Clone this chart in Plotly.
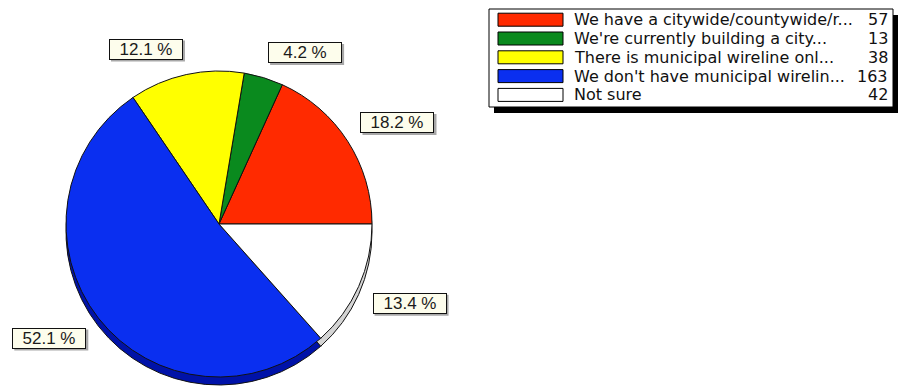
import math
import plotly.graph_objects as go

# ---- data ----
categories = [
    "We have a citywide/countywide/r...",
    "We're currently building a city...",
    "There is municipal wireline onl...",
    "We don't have municipal wirelin...",
    "Not sure",
]
counts = [57, 13, 38, 163, 42]
colors = ["#ff2a00", "#0a8a1e", "#ffff00", "#0a2ff0", "#ffffff"]
rim_colors = ["#a81800", "#005a12", "#a8a800", "#0012a8", "#d4d4d4"]

W, H = 905, 387
CX, CY, R = 219, 224, 153   # pie centre and radius, pixels
DEPTH = 8                   # 3-D rim thickness, pixels


def px(x):
    return x / W


def py(y):
    return 1 - y / H


def domain(dy=0):
    return dict(x=[px(CX - R), px(CX + R)], y=[py(CY + R + dy), py(CY - R + dy)])


total = sum(counts)
# first slice starts at 3 o'clock and slices run counter-clockwise
rot = 90 - 360 * counts[0] / total

fig = go.Figure()

# rim / depth pie (behind)
fig.add_trace(go.Pie(
    values=counts, labels=categories, sort=False, direction="counterclockwise",
    rotation=rot, marker=dict(colors=rim_colors, line=dict(color="#111111", width=1)),
    textinfo="none", hoverinfo="skip", showlegend=False, domain=domain(DEPTH),
))
# main pie
fig.add_trace(go.Pie(
    values=counts, labels=categories, sort=False, direction="counterclockwise",
    rotation=rot, marker=dict(colors=colors, line=dict(color="#111111", width=1)),
    textinfo="none", hoverinfo="label+value+percent", showlegend=False, domain=domain(0),
))

shapes = []
annotations = []

# percentage boxes, anchored at 1.1 R along each slice's mid angle
BOX_W, BOX_H = 74, 21
cum = 0
for v in counts:
    mid = (cum + v / 2) / total * 2 * math.pi
    cum += v
    ax = CX + 1.1 * R * math.cos(mid)
    ay = CY - 1.1 * R * math.sin(mid)
    right = math.cos(mid) >= 0
    up = math.sin(mid) >= 0
    x0 = ax if right else ax - BOX_W
    y0 = ay - BOX_H if up else ay
    shapes.append(dict(type="rect", xref="paper", yref="paper",
                       x0=px(x0 + 2), x1=px(x0 + BOX_W + 2),
                       y0=py(y0 + BOX_H + 2), y1=py(y0 + 2),
                       fillcolor="#a8a8a8", line=dict(width=0), layer="above"))
    annotations.append(dict(
        x=px(ax), y=py(ay), xref="paper", yref="paper",
        xanchor="left" if right else "right", yanchor="bottom" if up else "top",
        text=f"{v / total * 100:.1f} %", showarrow=False,
        font=dict(family="Liberation Sans, Arial", size=17, color="#1a1a1a"),
        bgcolor="#fdfdec", bordercolor="#111111", borderwidth=1, borderpad=1,
        width=BOX_W - 4, height=BOX_H - 4, align="center", valign="middle",
    ))

# custom legend
LX0, LY0, LX1, LY1 = 489, 9, 893, 107
shapes.append(dict(type="rect", xref="paper", yref="paper",
                   x0=px(LX0 + 5), x1=px(LX1 + 5), y0=py(LY1 + 6), y1=py(LY0 + 6),
                   fillcolor="#000000", line=dict(width=0), layer="above"))
shapes.append(dict(type="rect", xref="paper", yref="paper",
                   x0=px(LX0), x1=px(LX1), y0=py(LY1), y1=py(LY0),
                   fillcolor="#ffffff", line=dict(color="#000000", width=1), layer="above"))
ROW0, ROW_STEP = 19.7, 18.8
for i, (cat, n, c) in enumerate(zip(categories, counts, colors)):
    yc = ROW0 + i * ROW_STEP
    shapes.append(dict(type="rect", xref="paper", yref="paper",
                       x0=px(498), x1=px(563), y0=py(yc + 6.5), y1=py(yc - 6.5),
                       fillcolor=c, line=dict(color="#000000", width=1), layer="above"))
    annotations.append(dict(x=px(572), y=py(yc), xref="paper", yref="paper",
                            xanchor="left", yanchor="middle", text=cat, showarrow=False,
                            font=dict(family="DejaVu Sans", size=16, color="#111111")))
    annotations.append(dict(x=px(890), y=py(yc), xref="paper", yref="paper",
                            xanchor="right", yanchor="middle", text=str(n), showarrow=False,
                            font=dict(family="DejaVu Sans", size=16, color="#111111")))

fig.update_layout(
    width=W, height=H, margin=dict(l=0, r=0, t=0, b=0),
    paper_bgcolor="#ffffff", plot_bgcolor="#ffffff",
    shapes=shapes, annotations=annotations, showlegend=False,
)

fig.write_html("out.html")
